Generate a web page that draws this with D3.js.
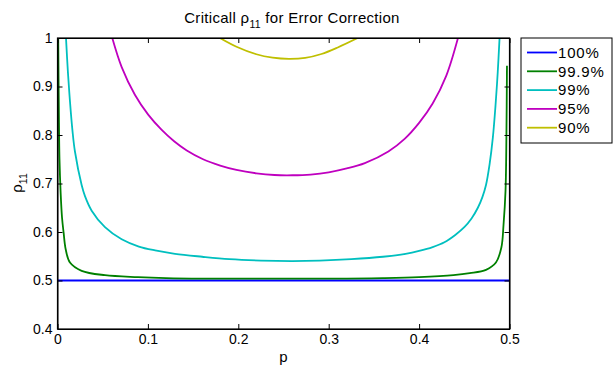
<!doctype html>
<html lang="en">
<head>
    <meta charset="utf-8">
    <title>Criticall rho11 for Error Correction</title>
    <script src="https://cdnjs.cloudflare.com/ajax/libs/d3/7.8.5/d3.min.js"></script>
    <style>
        body { margin: 0; background: #fff; }
        svg { font-family: 'Liberation Sans', Arial, sans-serif; }
        .axis path, .axis line { stroke: #000; }
        .axis text { font-size: 14px; fill: #000; }
    </style>
</head>
<body>
<svg id="chart" width="615" height="366"></svg>
<script>
    // tick values
    const xTicks = [0, 0.1, 0.2, 0.3, 0.4, 0.5];
    const yTicks = [0.4, 0.5, 0.6, 0.7, 0.8, 0.9, 1];

    // series as [p, rho11]
    const s100 = [[0, 0.5], [0.5, 0.5]];
    const s999 = [[0.0008, 1.0], [0.0015, 0.85], [0.0022, 0.75], [0.0035, 0.68], [0.005, 0.63],
        [0.0068, 0.598], [0.009, 0.565], [0.0138, 0.537], [0.0267, 0.520], [0.0525, 0.511],
        [0.089, 0.507], [0.12, 0.505], [0.16, 0.504], [0.2, 0.504], [0.26, 0.504], [0.32, 0.504],
        [0.36, 0.505], [0.4, 0.507], [0.438, 0.511], [0.456, 0.515], [0.474, 0.522], [0.485, 0.537],
        [0.491, 0.568], [0.4934, 0.615], [0.4956, 0.685], [0.4966, 0.80], [0.4972, 0.943]];
    const s99 = [[0.0094, 1.0], [0.0115, 0.93], [0.0138, 0.869], [0.0165, 0.81], [0.0193, 0.766],
        [0.0267, 0.697], [0.0304, 0.674], [0.0378, 0.644], [0.0525, 0.610], [0.071, 0.585],
        [0.09, 0.570], [0.108, 0.562], [0.13, 0.555], [0.16, 0.549], [0.19, 0.544], [0.225, 0.541],
        [0.26, 0.540], [0.29, 0.541], [0.325, 0.544], [0.36, 0.549], [0.385, 0.555], [0.4, 0.561],
        [0.415, 0.569], [0.428, 0.579], [0.44, 0.594], [0.45, 0.610], [0.458, 0.628], [0.465, 0.650],
        [0.47, 0.672], [0.474, 0.697], [0.478, 0.74], [0.4816, 0.795], [0.4845, 0.86], [0.487, 0.93],
        [0.489, 1.0]];
    const s95 = [[0.0606, 1.0], [0.071, 0.94], [0.0856, 0.883], [0.1003, 0.842], [0.115, 0.811],
        [0.129, 0.787], [0.143, 0.768], [0.161, 0.750], [0.18, 0.737], [0.198, 0.728], [0.22, 0.721],
        [0.24, 0.7175], [0.26, 0.717], [0.28, 0.7185], [0.3, 0.723], [0.32, 0.731], [0.34, 0.742],
        [0.366, 0.766], [0.384, 0.792], [0.4, 0.825], [0.415, 0.865], [0.43, 0.922], [0.443, 1.0]];
    const s90 = [[0.1796, 1.0], [0.198, 0.982], [0.22, 0.9665], [0.238, 0.9595], [0.256, 0.957],
        [0.274, 0.959], [0.292, 0.967], [0.31, 0.9805], [0.332, 1.0]];

    const labels = ["100%", "99.9%", "99%", "95%", "90%"];
    const colors = ["#0000ff", "#008000", "#00bfbf", "#bf00bf", "#bfbf00"];
    const series = [s100, s999, s99, s95, s90];

    const svg = d3.select("#chart");
    const plotL = 57.5, plotR = 509.5, plotT = 38, plotB = 329;

    const x = d3.scaleLinear().domain([0, 0.5]).range([plotL, plotR]);
    const y = d3.scaleLinear().domain([0.4, 1]).range([plotB, plotT]);

    svg.append("clipPath").attr("id", "plot")
        .append("rect").attr("x", plotL).attr("y", plotT)
        .attr("width", plotR - plotL).attr("height", plotB - plotT);

    const line = d3.line()
        .x(d => x(d[0]))
        .y(d => y(d[1]))
        .curve(d3.curveCatmullRom.alpha(0.5));

    svg.append("g").attr("clip-path", "url(#plot)")
        .selectAll("path")
        .data(series)
        .enter()
        .append("path")
        .attr("d", line)
        .attr("fill", "none")
        .attr("stroke", (d, i) => colors[i])
        .attr("stroke-width", 1.8);

    // axes, MATLAB style ticks pointing inward
    svg.append("g").attr("class", "axis")
        .attr("transform", `translate(0,${plotB})`)
        .call(d3.axisBottom(x).tickValues(xTicks).tickFormat(d3.format("")).tickSizeInner(-5).tickSizeOuter(0).tickPadding(5));
    svg.append("g").attr("class", "axis")
        .attr("transform", `translate(0,${plotT})`)
        .call(d3.axisTop(x).tickValues(xTicks).tickFormat("").tickSizeInner(-5).tickSizeOuter(0));
    svg.append("g").attr("class", "axis")
        .attr("transform", `translate(${plotL},0)`)
        .call(d3.axisLeft(y).tickValues(yTicks).tickFormat(d3.format("")).tickSizeInner(-5).tickSizeOuter(0).tickPadding(5));
    svg.append("g").attr("class", "axis")
        .attr("transform", `translate(${plotR},0)`)
        .call(d3.axisRight(y).tickValues(yTicks).tickFormat("").tickSizeInner(-5).tickSizeOuter(0));

    svg.append("rect")
        .attr("x", plotL).attr("y", plotT)
        .attr("width", plotR - plotL).attr("height", plotB - plotT)
        .attr("fill", "none").attr("stroke", "#000").attr("stroke-width", 1.2);

    // title and axis labels
    const title = svg.append("text")
        .attr("x", 292).attr("y", 23)
        .attr("text-anchor", "middle")
        .attr("font-size", 15)
        .attr("letter-spacing", 0.3);
    title.append("tspan").text("Criticall \u03c1");
    title.append("tspan").attr("font-size", 10.5).attr("dy", 5).text("11");
    title.append("tspan").attr("dy", -5).text(" for Error Correction");

    svg.append("text")
        .attr("x", (plotL + plotR) / 2).attr("y", 362)
        .attr("text-anchor", "middle")
        .attr("font-size", 15)
        .text("p");

    const ylab = svg.append("text")
        .attr("transform", "translate(22,183) rotate(-90)")
        .attr("text-anchor", "middle")
        .attr("font-size", 15);
    ylab.append("tspan").text("\u03c1");
    ylab.append("tspan").attr("font-size", 10.5).attr("dy", 5).text("11");

    // legend
    const lg = svg.append("g");
    lg.append("rect")
        .attr("x", 521).attr("y", 38).attr("width", 91).attr("height", 105)
        .attr("fill", "#fff").attr("stroke", "#000").attr("stroke-width", 1);
    const rows = lg.selectAll("g.row")
        .data(labels)
        .enter()
        .append("g")
        .attr("class", "row")
        .attr("transform", (d, i) => `translate(0,${52.5 + i * 18.8})`);
    rows.append("line")
        .attr("x1", 527).attr("x2", 557)
        .attr("stroke", (d, i) => colors[i])
        .attr("stroke-width", 1.8);
    rows.append("text")
        .attr("x", 558).attr("dy", "0.35em")
        .attr("font-size", 15)
        .attr("letter-spacing", 0.8)
        .text(d => d);
</script>
</body>
</html>
